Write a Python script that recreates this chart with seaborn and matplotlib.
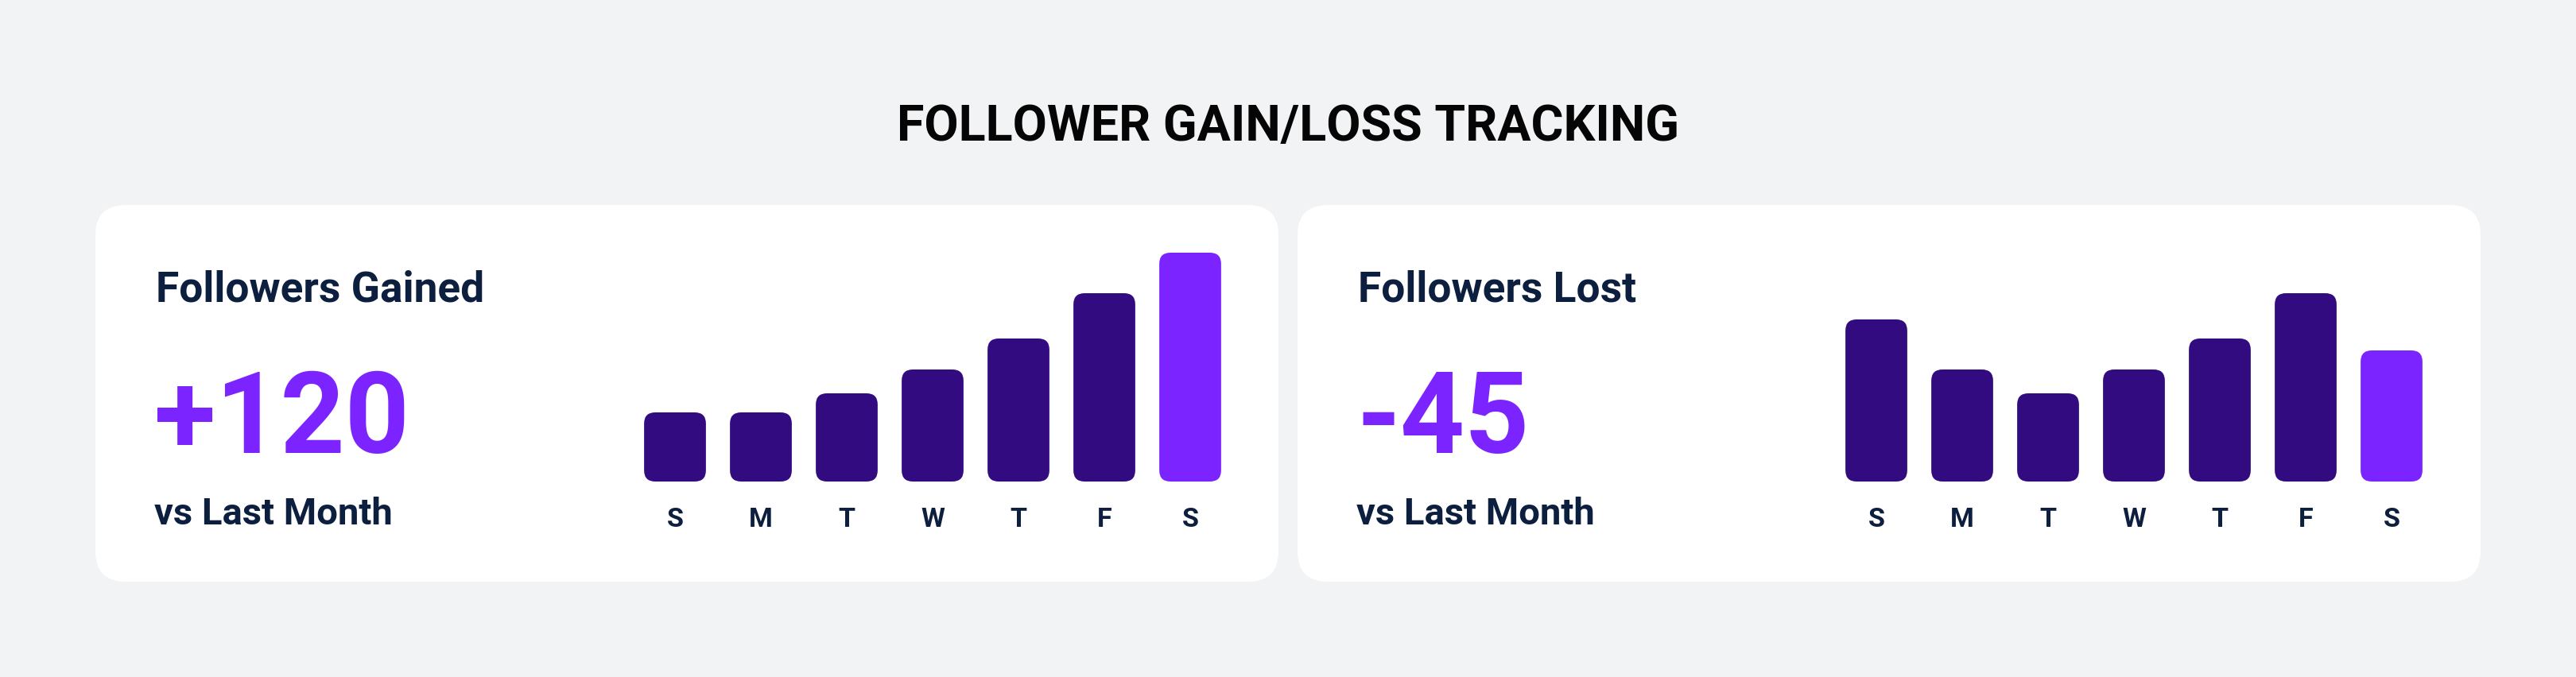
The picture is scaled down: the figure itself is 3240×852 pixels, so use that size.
import numpy as np
import pandas as pd
import seaborn as sns
import matplotlib.pyplot as plt
from matplotlib.patches import FancyBboxPatch

# data
days = ["S", "M", "T", "W", "T", "F", "S"]
gained = [29, 29, 37, 47, 60, 79, 96]
lost = [68, 47, 37, 47, 60, 79, 55]
card_titles = ["Followers Gained", "Followers Lost"]
card_totals = ["+120", "-45"]
card_sub = "vs Last Month"
chart_title = "FOLLOWER GAIN/LOSS TRACKING"

BG = "#f2f3f5"
CARD = "#ffffff"
DARK = "#330b80"
ACCENT = "#7b24ff"
NAVY = "#0d1f3f"

sns.set_theme(style="white")
plt.rcParams["font.family"] = ["Roboto", "DejaVu Sans"]

W, H, DPI = 3240, 852, 200
fig = plt.figure(figsize=(W / DPI, H / DPI), dpi=DPI, facecolor=BG)

# background layer in pixel coordinates
bg = fig.add_axes([0, 0, 1, 1])
bg.set_xlim(0, W)
bg.set_ylim(H, 0)
bg.axis("off")
bg.set_facecolor(BG)

bg.text(W / 2, 177, chart_title, ha="center", va="baseline",
        fontsize=22.6, fontweight="bold", color="#050505")

card_x = [120, 1632]
card_w = 1488
card_top, card_bot = 258, 732
bar_left = [795, 2306]

for i, (cx, series) in enumerate(zip(card_x, [gained, lost])):
    card = FancyBboxPatch((cx, card_top), card_w, card_bot - card_top,
                          boxstyle="round,pad=0,rounding_size=38",
                          fc=CARD, ec="none", zorder=1)
    bg.add_patch(card)
    tx = cx + 76
    bg.text(tx, 379, card_titles[i], ha="left", va="baseline",
            fontsize=19.2, fontweight="bold", color=NAVY, zorder=2)
    bg.text(tx - 2, 570, card_totals[i], ha="left", va="baseline",
            fontsize=51, fontweight="bold", color=ACCENT, zorder=2)
    bg.text(tx - 2, 660, card_sub, ha="left", va="baseline",
            fontsize=17, fontweight="bold", color=NAVY, zorder=2)

    # bar chart
    ax = fig.add_axes([bar_left[i] / W, (H - 606) / H, 756 / W, 300 / H])
    ax.set_facecolor("none")
    df = pd.DataFrame({"pos": range(len(days)), "value": series})
    palette = [DARK] * (len(days) - 1) + [ACCENT]
    sns.barplot(data=df, x="pos", y="value", hue="pos", palette=palette,
                legend=False, width=0.72, saturation=1, ax=ax)
    ax.set_xlim(-0.5, len(days) - 0.5)
    ax.set_ylim(0, 100)

    # rounded bars: x unit = 108 px, y unit = 3 px
    aspect = 108 / 3
    for p in list(ax.patches):
        x, y, w, h = p.get_x(), p.get_y(), p.get_width(), p.get_height()
        fc = p.get_facecolor()
        p.remove()
        ax.add_patch(FancyBboxPatch((x, y), w, h,
                                    boxstyle="round,pad=0,rounding_size=0.13",
                                    mutation_aspect=aspect, fc=fc, ec="none"))

    ax.set_xticks(range(len(days)))
    ax.set_xticklabels(days, fontsize=12.3, fontweight="bold", color=NAVY)
    ax.tick_params(axis="x", length=0, pad=11.5)
    ax.set_yticks([])
    ax.set_xlabel("")
    ax.set_ylabel("")
    sns.despine(ax=ax, left=True, bottom=True)

fig.savefig("out.png", dpi=DPI, facecolor=BG)
